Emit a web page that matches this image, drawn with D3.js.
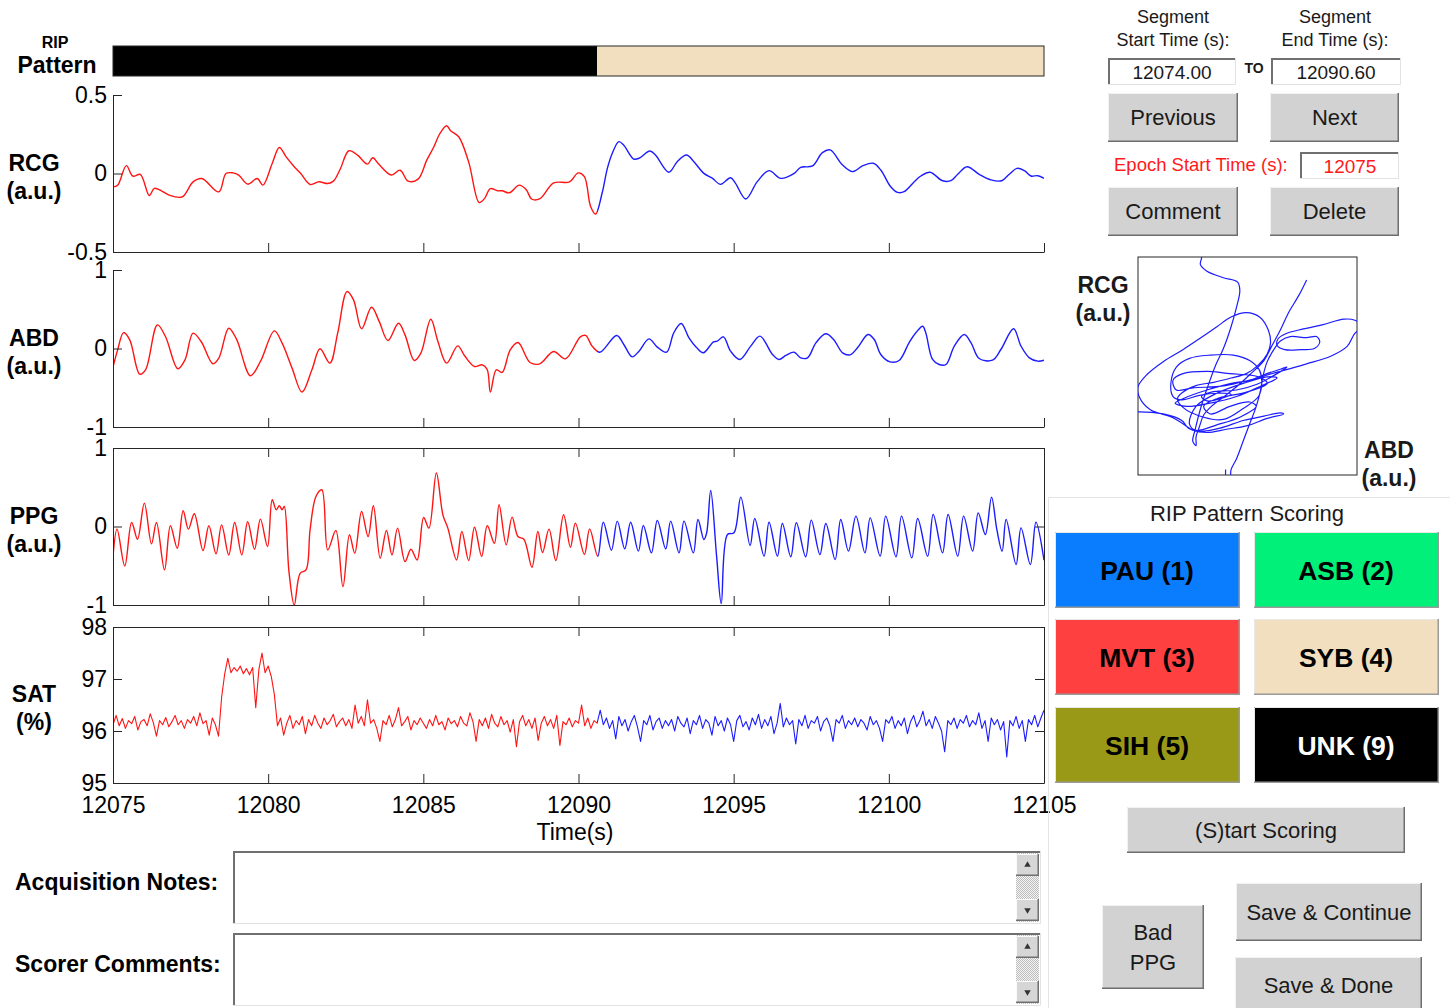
<!DOCTYPE html>
<html>
<head>
<meta charset="utf-8">
<script src="https://cdn.jsdelivr.net/npm/d3@7"></script>
<style>
  body { margin: 0; background: #fff; }
  svg { font-family: "Liberation Sans", Arial, sans-serif; }
</style>
</head>
<body>
<div id="chart"></div>
<script>
// time window and split between scored (red) and current (blue) part
const tStart = 12075;
const tEnd = 12105;
const splitTime = 12090.6;
const xTicks = [12075, 12080, 12085, 12090, 12095, 12100, 12105];

const rcgTicks = [-0.5, 0, 0.5];
const abdTicks = [-1, 0, 1];
const ppgTicks = [-1, 0, 1];
const satTicks = [95, 96, 97, 98];

// scoring categories
const scoreLabels = ["PAU (1)", "ASB (2)", "MVT (3)", "SYB (4)", "SIH (5)", "UNK (9)"];
const scoreColors = ["#0a7dff", "#00f07a", "#ff4040", "#f2dfbf", "#999917", "#000000"];
const scoreText = ["#000", "#000", "#000", "#000", "#000", "#fff"];

// RIP pattern segments: [start, end, category index]
const ripSegments = [
  [12075, 12090.6, 5],
  [12090.6, 12105, 3]
];

// RCG (a.u.) [time, value]
const rcgSeries = [
  [12075.0, -0.085], [12075.15, -0.075], [12075.43, 0.05], [12075.64, -0.017], [12075.88, -0.006],
  [12076.17, -0.14], [12076.33, -0.095], [12076.56, -0.11], [12076.81, -0.138], [12077.23, -0.149],
  [12077.58, -0.053], [12077.86, -0.032], [12078.41, -0.117], [12078.64, 0.0], [12078.86, 0.004],
  [12079.05, -0.01], [12079.34, -0.068], [12079.65, -0.032], [12079.83, -0.074], [12080.13, 0.064],
  [12080.36, 0.166], [12080.58, 0.106], [12080.84, 0.043], [12081.05, 0.0], [12081.35, -0.07],
  [12081.64, -0.053], [12081.92, -0.064], [12082.11, -0.047], [12082.33, 0.032], [12082.6, 0.145],
  [12082.88, 0.117], [12083.2, 0.06], [12083.37, 0.1], [12083.56, 0.06], [12083.97, -0.01],
  [12084.25, 0.021], [12084.51, -0.049], [12084.83, -0.036], [12085.11, 0.085], [12085.34, 0.17],
  [12085.52, 0.25], [12085.75, 0.304], [12085.88, 0.272], [12086.14, 0.234], [12086.46, 0.074],
  [12086.8, -0.185], [12086.97, -0.16], [12087.16, -0.096], [12087.39, -0.11], [12087.54, -0.11],
  [12087.77, -0.123], [12088.09, -0.074], [12088.31, -0.102], [12088.5, -0.164], [12088.76, -0.16],
  [12089.2, -0.06], [12089.71, -0.053], [12089.99, 0.004], [12090.19, -0.02], [12090.39, -0.21],
  [12090.55, -0.258], [12090.76, -0.126], [12090.93, 0.033], [12091.09, 0.129], [12091.3, 0.203],
  [12091.46, 0.18], [12091.78, 0.092], [12091.95, 0.097], [12092.3, 0.143], [12092.48, 0.118],
  [12092.91, 0.008], [12093.18, 0.075], [12093.48, 0.118], [12093.72, 0.075], [12094.04, 0.001],
  [12094.31, -0.03], [12094.58, -0.069], [12094.9, -0.027], [12095.06, -0.063], [12095.39, -0.162],
  [12095.76, -0.052], [12096.14, 0.018], [12096.52, -0.031], [12096.95, 0.001], [12097.16, 0.039],
  [12097.54, 0.048], [12097.86, 0.133], [12098.11, 0.15], [12098.51, 0.054], [12098.83, 0.012],
  [12099.15, 0.048], [12099.5, 0.065], [12099.74, 0.022], [12100.06, -0.084], [12100.28, -0.12],
  [12100.49, -0.116], [12100.82, -0.052], [12101.03, -0.016], [12101.33, 0.008], [12101.73, -0.046],
  [12102.0, -0.046], [12102.22, -0.005], [12102.52, 0.043], [12102.91, -0.005], [12103.29, -0.041],
  [12103.64, -0.046], [12103.88, -0.005], [12104.13, 0.033], [12104.37, 0.018], [12104.58, -0.016],
  [12104.8, -0.014], [12105.0, -0.031]
];

// ABD (a.u.) [time, value]
const abdSeries = [
  [12075.0, -0.237], [12075.15, -0.017], [12075.34, 0.203], [12075.54, 0.11], [12075.86, -0.326],
  [12076.05, -0.271], [12076.43, 0.301], [12076.69, 0.153], [12077.09, -0.258], [12077.32, -0.144],
  [12077.58, 0.195], [12077.84, 0.089], [12078.22, -0.195], [12078.41, -0.123], [12078.73, 0.258],
  [12078.98, 0.119], [12079.43, -0.347], [12079.75, -0.165], [12080.2, 0.225], [12080.45, 0.068],
  [12080.77, -0.25], [12081.09, -0.555], [12081.41, -0.271], [12081.67, -0.004], [12081.99, -0.186],
  [12082.24, 0.195], [12082.54, 0.725], [12082.75, 0.619], [12083.01, 0.25], [12083.33, 0.525],
  [12083.58, 0.343], [12083.86, 0.102], [12084.2, 0.322], [12084.41, 0.174], [12084.71, -0.153],
  [12084.92, -0.059], [12085.24, 0.373], [12085.47, 0.089], [12085.75, -0.186], [12086.11, 0.034],
  [12086.33, -0.093], [12086.65, -0.229], [12086.9, -0.208], [12087.06, -0.271], [12087.16, -0.555],
  [12087.35, -0.271], [12087.54, -0.305], [12087.8, -0.017], [12088.05, 0.076], [12088.44, -0.178],
  [12088.75, -0.195], [12089.2, -0.038], [12089.58, -0.131], [12090.06, 0.149], [12090.23, 0.166],
  [12090.44, 0.03], [12090.69, -0.047], [12091.23, 0.166], [12091.46, 0.051], [12091.73, -0.106],
  [12091.95, -0.034], [12092.27, 0.123], [12092.54, 0.017], [12092.84, -0.047], [12093.07, 0.2],
  [12093.31, 0.318], [12093.56, 0.136], [12093.81, 0.009], [12094.02, -0.055], [12094.35, 0.085],
  [12094.47, 0.093], [12094.67, 0.149], [12094.9, -0.034], [12095.2, -0.14], [12095.55, 0.03],
  [12095.85, 0.157], [12096.25, -0.076], [12096.46, -0.14], [12096.68, -0.089], [12096.95, -0.047],
  [12097.16, -0.119], [12097.38, -0.119], [12097.65, 0.072], [12097.97, 0.187], [12098.22, 0.115],
  [12098.51, -0.055], [12098.75, -0.081], [12098.99, 0.009], [12099.33, 0.178], [12099.53, 0.115],
  [12099.74, -0.076], [12100.04, -0.17], [12100.33, -0.153], [12100.65, 0.072], [12100.87, 0.2],
  [12101.09, 0.284], [12101.19, 0.2], [12101.41, -0.14], [12101.62, -0.204], [12101.84, -0.204],
  [12102.11, 0.03], [12102.43, 0.178], [12102.65, 0.072], [12102.91, -0.127], [12103.34, -0.149],
  [12103.61, -0.013], [12104.02, 0.251], [12104.26, 0.03], [12104.53, -0.119], [12104.8, -0.161],
  [12105.0, -0.149]
];

// PPG (a.u.) [time, value]
const ppgSeries = [
  [12075.0, -0.383], [12075.13, -0.034], [12075.38, -0.502], [12075.6, 0.051], [12075.79, -0.162],
  [12076.01, 0.298], [12076.24, -0.221], [12076.4, 0.051], [12076.66, -0.553], [12076.85, 0.009],
  [12077.07, -0.277], [12077.26, 0.2], [12077.43, -0.034], [12077.62, 0.162], [12077.9, -0.306],
  [12078.09, 0.009], [12078.32, -0.349], [12078.5, 0.021], [12078.73, -0.362], [12078.92, 0.051],
  [12079.15, -0.362], [12079.34, 0.06], [12079.56, -0.289], [12079.75, 0.094], [12079.98, -0.255],
  [12080.13, 0.34], [12080.26, 0.213], [12080.36, 0.264], [12080.45, 0.213], [12080.52, 0.255],
  [12080.67, -0.574], [12080.84, -1.0], [12081.03, -0.596], [12081.22, -0.553], [12081.35, -0.043],
  [12081.54, 0.383], [12081.73, 0.468], [12081.92, -0.298], [12082.18, -0.051], [12082.41, -0.766],
  [12082.62, -0.106], [12082.79, -0.34], [12083.01, 0.191], [12083.22, -0.128], [12083.39, 0.264],
  [12083.61, -0.404], [12083.81, -0.051], [12083.99, -0.362], [12084.17, -0.021], [12084.41, -0.447],
  [12084.6, -0.289], [12084.8, -0.426], [12085.01, 0.115], [12085.18, -0.021], [12085.42, 0.681],
  [12085.63, 0.149], [12085.79, -0.021], [12086.07, -0.426], [12086.24, -0.064], [12086.46, -0.434],
  [12086.65, -0.009], [12086.88, -0.383], [12087.06, 0.009], [12087.29, -0.213], [12087.44, 0.277],
  [12087.67, -0.234], [12087.86, 0.119], [12088.05, -0.128], [12088.24, -0.162], [12088.5, -0.519],
  [12088.69, -0.064], [12088.84, -0.332], [12089.05, -0.034], [12089.27, -0.434], [12089.52, 0.149],
  [12089.74, -0.264], [12089.9, 0.043], [12090.19, -0.357], [12090.36, -0.03], [12090.62, -0.378],
  [12090.8, 0.055], [12091.06, -0.302], [12091.25, 0.068], [12091.49, -0.285], [12091.68, 0.055],
  [12091.93, -0.314], [12092.09, 0.013], [12092.35, -0.336], [12092.54, 0.076], [12092.81, -0.285],
  [12092.97, 0.068], [12093.24, -0.336], [12093.4, 0.068], [12093.7, -0.336], [12093.85, 0.089],
  [12094.04, -0.166], [12094.13, -0.08], [12094.26, 0.459], [12094.45, -0.378], [12094.6, -0.981],
  [12094.8, -0.102], [12095.01, -0.08], [12095.23, 0.374], [12095.53, -0.242], [12095.68, 0.102],
  [12095.98, -0.378], [12096.14, 0.055], [12096.41, -0.378], [12096.57, 0.038], [12096.84, -0.386],
  [12097.02, 0.047], [12097.32, -0.386], [12097.5, 0.081], [12097.78, -0.357], [12097.97, 0.038],
  [12098.27, -0.42], [12098.45, 0.089], [12098.7, -0.314], [12098.94, 0.132], [12099.23, -0.336],
  [12099.4, 0.11], [12099.72, -0.378], [12099.9, 0.132], [12100.23, -0.386], [12100.41, 0.132],
  [12100.74, -0.399], [12100.93, 0.102], [12101.25, -0.378], [12101.43, 0.153], [12101.73, -0.336],
  [12101.91, 0.153], [12102.22, -0.378], [12102.41, 0.132], [12102.7, -0.314], [12102.88, 0.174],
  [12103.11, -0.102], [12103.31, 0.374], [12103.48, -0.038], [12103.65, -0.314], [12103.78, 0.089],
  [12104.1, -0.484], [12104.26, -0.017], [12104.56, -0.484], [12104.74, 0.055], [12105.0, -0.43]
];

// SAT (%) sampled every 0.1 s from tStart
const satStep = 0.1;
const satValues = [
  96.12, 96.30, 96.10, 96.24, 96.05, 96.20, 96.14, 96.28, 96.02, 96.18,
  96.22, 96.10, 96.33, 96.16, 95.90, 96.20, 96.12, 96.26, 96.08, 96.18,
  96.30, 96.12, 96.20, 96.05, 96.22, 96.15, 96.28, 96.10, 96.35, 96.14,
  96.20, 95.92, 96.25, 96.12, 95.90, 96.65, 97.10, 97.40, 97.12, 97.22,
  97.15, 97.25, 97.10, 97.20, 97.08, 97.22, 96.45, 97.18, 97.50, 97.12,
  97.25, 97.05, 96.70, 96.10, 96.25, 95.92, 96.15, 96.30, 96.05, 96.20,
  96.12, 96.28, 95.95, 96.22, 96.10, 96.30, 96.15, 96.05, 96.25, 96.12,
  96.20, 96.32, 96.08, 96.18, 96.25, 96.10, 96.22, 96.05, 96.50, 96.15,
  96.28, 96.10, 96.60, 96.15, 96.22, 96.05, 95.80, 96.20, 96.12, 96.30,
  96.08, 96.22, 96.45, 96.10, 96.18, 96.28, 96.02, 96.20, 96.12, 96.25,
  96.15, 96.05, 96.22, 96.10, 96.30, 96.12, 96.18, 96.02, 96.25, 96.14,
  96.20, 96.08, 96.28, 96.15, 96.10, 96.35, 96.18, 95.80, 96.22, 96.10,
  96.25, 96.05, 96.32, 96.15, 96.08, 96.28, 96.12, 96.20, 95.98, 96.22,
  95.70, 96.18, 96.30, 96.10, 96.22, 96.05, 96.25, 95.82, 96.15, 96.28,
  96.10, 96.22, 96.05, 96.30, 95.72, 96.18, 96.12, 96.25, 96.08, 96.20,
  96.15, 96.50, 96.10, 96.25, 96.05, 96.20, 96.15, 96.40, 96.12, 96.25,
  96.05, 96.20, 95.85, 96.28, 96.10, 96.22, 96.00, 96.18, 96.30, 96.08,
  95.80, 96.20, 96.12, 96.30, 96.02, 96.18, 96.25, 96.05, 96.20, 96.10,
  96.22, 96.00, 96.28, 96.15, 96.08, 96.25, 95.95, 96.20, 96.12, 96.30,
  96.05, 96.22, 96.15, 95.92, 96.28, 96.10, 96.20, 96.00, 96.25, 96.12,
  95.80, 96.20, 96.30, 96.08, 96.18, 96.02, 96.25, 96.12, 96.32, 96.05,
  96.22, 96.10, 96.28, 95.95, 96.15, 96.53, 96.08, 96.25, 96.12, 96.20,
  95.75, 96.22, 96.10, 96.30, 96.05, 96.20, 96.15, 96.28, 96.00, 96.18,
  96.25, 96.10, 95.80, 96.22, 96.15, 96.30, 96.05, 96.20, 96.12, 96.25,
  96.08, 96.22, 96.15, 96.02, 96.28, 96.12, 96.20, 96.05, 95.80, 96.22,
  96.15, 96.28, 96.05, 96.20, 96.10, 96.25, 95.95, 96.18, 96.30, 96.08,
  96.20, 96.38, 96.10, 96.22, 96.05, 96.28, 96.15, 96.00, 95.60, 96.20,
  96.12, 96.25, 96.05, 96.22, 96.15, 96.30, 96.08, 96.20, 96.12, 96.35,
  96.05, 96.20, 95.80, 96.25, 96.12, 96.22, 96.02, 96.18, 95.50, 96.20,
  96.10, 96.28, 96.05, 96.20, 95.80, 96.22, 96.12, 96.30, 96.08, 96.25,
  96.40
];

// RCG vs ABD loop of the current segment: [abd, rcg] (a.u.)
const loopPoints = [
  [0.54, 0.79], [0.47, 0.65], [0.37, 0.48], [0.30, 0.33], [0.22, 0.18], [0.15, 0.05], [0.02, -0.08],
  [-0.10, -0.19], [-0.24, -0.30], [-0.33, -0.37], [-0.40, -0.45], [-0.44, -0.56], [-0.47, -0.65],
  [-0.47, -0.73], [-0.50, -0.69], [-0.48, -0.59], [-0.42, -0.36], [-0.36, -0.18], [-0.29, 0.01],
  [-0.22, 0.16], [-0.15, 0.36], [-0.10, 0.54], [-0.07, 0.69], [-0.09, 0.77], [-0.22, 0.81],
  [-0.37, 0.87], [-0.43, 0.93], [-0.42, 0.99], [-0.41, 1.12], [-1.20, 1.12], [-1.20, -0.44],
  [-1.00, -0.42], [-0.77, -0.44], [-0.60, -0.50], [-0.54, -0.57], [-0.44, -0.60], [-0.25, -0.57],
  [-0.04, -0.50], [0.15, -0.46], [0.30, -0.43], [0.33, -0.44], [0.18, -0.48], [-0.01, -0.55],
  [-0.19, -0.58], [-0.37, -0.61], [-0.50, -0.59], [-0.59, -0.53], [-0.69, -0.47], [-0.89, -0.40],
  [-0.99, -0.28], [-1.00, -0.19], [-0.92, -0.08], [-0.77, 0.04], [-0.59, 0.15], [-0.44, 0.25],
  [-0.28, 0.36], [-0.15, 0.45], [-0.01, 0.49], [0.11, 0.45], [0.19, 0.33], [0.21, 0.21], [0.18, 0.11],
  [0.10, 0.01], [-0.01, -0.07], [-0.15, -0.11], [-0.31, -0.15], [-0.47, -0.18], [-0.59, -0.24],
  [-0.64, -0.30], [-0.59, -0.38], [-0.40, -0.47], [-0.22, -0.49], [-0.04, -0.39], [0.10, -0.28],
  [0.13, -0.16], [0.11, -0.04], [0.02, 0.05], [-0.13, 0.10], [-0.34, 0.10], [-0.53, 0.07],
  [-0.65, -0.01], [-0.70, -0.16], [-0.68, -0.28], [-0.60, -0.31], [-0.44, -0.27], [-0.28, -0.25],
  [-0.15, -0.26], [-0.22, -0.29], [-0.37, -0.32], [-0.42, -0.28], [-0.33, -0.24], [-0.10, -0.22],
  [0.08, -0.17], [0.27, -0.07], [0.36, -0.01], [0.30, -0.03], [0.15, -0.08], [-0.01, -0.14],
  [-0.10, -0.15], [-0.37, -0.22], [-0.59, -0.30], [-0.66, -0.34], [-0.56, -0.37], [-0.34, -0.34],
  [-0.10, -0.28], [0.11, -0.19], [0.27, -0.11], [0.18, -0.10], [-0.04, -0.16], [-0.28, -0.25],
  [-0.47, -0.37], [-0.53, -0.53], [-0.47, -0.59], [-0.28, -0.54], [-0.07, -0.47], [0.08, -0.37],
  [0.02, -0.33], [-0.16, -0.37], [-0.34, -0.44], [-0.40, -0.37], [-0.28, -0.30], [-0.01, -0.24],
  [0.18, -0.16], [0.10, -0.10], [-0.16, -0.07], [-0.37, -0.05], [-0.59, -0.07], [-0.68, -0.13],
  [-0.65, -0.22], [-0.50, -0.20], [-0.20, -0.18],
  [0.33, -0.04], [0.54, 0.02], [0.76, 0.09], [0.91, 0.18], [0.98, 0.30], [1.05, 0.36],
  [0.98, 0.42], [0.88, 0.43], [0.69, 0.38], [0.51, 0.34], [0.36, 0.30], [0.28, 0.25], [0.27, 0.19],
  [0.34, 0.15], [0.49, 0.15], [0.61, 0.16], [0.66, 0.22], [0.63, 0.27], [0.54, 0.26], [0.39, 0.27],
  [0.30, 0.23], [0.24, 0.15], [0.18, 0.04], [0.14, -0.10], [0.12, -0.22], [0.08, -0.37], [0.02, -0.53],
  [-0.04, -0.69], [-0.10, -0.85], [-0.15, -0.95], [-0.16, -1.05], [-0.19, -1.05], [-0.20, -0.95]
];

const satSeries = satValues.map((v, i) => [tStart + i * satStep, v]);

const width = 1450;
const height = 1008;
const plotLeft = 113;
const plotRight = 1044;
const red = "#ff1414";
const blue = "#1c1cff";
const axisColor = "#262626";

const svg = d3.select("#chart")
  .append("svg")
  .attr("width", width)
  .attr("height", height)
  .attr("viewBox", [0, 0, width, height]);

const defs = svg.append("defs");
const chk = defs.append("pattern")
  .attr("id", "chk").attr("width", 2).attr("height", 2)
  .attr("patternUnits", "userSpaceOnUse");
chk.append("rect").attr("width", 2).attr("height", 2).attr("fill", "#f4f4f4");
chk.append("rect").attr("width", 1).attr("height", 1).attr("fill", "#bdbdbd");
chk.append("rect").attr("x", 1).attr("y", 1).attr("width", 1).attr("height", 1).attr("fill", "#bdbdbd");

const x = d3.scaleLinear().domain([tStart, tEnd]).range([plotLeft, plotRight]);

// RIP pattern bar
svg.append("g")
  .selectAll("rect")
  .data(ripSegments)
  .join("rect")
  .attr("x", d => x(d[0]))
  .attr("y", 46)
  .attr("width", d => x(d[1]) - x(d[0]))
  .attr("height", 30)
  .attr("fill", d => scoreColors[d[2]]);
svg.append("rect")
  .attr("x", x(tStart)).attr("y", 46)
  .attr("width", x(tEnd) - x(tStart)).attr("height", 30)
  .attr("fill", "none").attr("stroke", axisColor);
svg.append("text").attr("x", 55).attr("y", 48).attr("text-anchor", "middle")
  .attr("font-size", 16).attr("font-weight", "bold").text("RIP");
svg.append("text").attr("x", 57).attr("y", 73).attr("text-anchor", "middle")
  .attr("font-size", 23).attr("font-weight", "bold").text("Pattern");

const panels = [
  { lines: ["RCG", "(a.u.)"], series: rcgSeries, domain: [-0.5, 0.5], ticks: rcgTicks, top: 95, bottom: 252, box: false, smooth: true },
  { lines: ["ABD", "(a.u.)"], series: abdSeries, domain: [-1, 1], ticks: abdTicks, top: 270, bottom: 427, box: false, smooth: true },
  { lines: ["PPG", "(a.u.)"], series: ppgSeries, domain: [-1, 1], ticks: ppgTicks, top: 448, bottom: 605, box: true, smooth: true },
  { lines: ["SAT", "(%)"], series: satSeries, domain: [95, 98], ticks: satTicks, top: 627, bottom: 783, box: true, smooth: false }
];

function styleAxis(g) {
  g.attr("font-family", null).attr("font-size", 23);
  g.select(".domain").attr("stroke", axisColor);
  g.selectAll(".tick line").attr("stroke", axisColor);
  g.selectAll(".tick text").attr("fill", "#000");
}

panels.forEach((p, i) => {
  const y = d3.scaleLinear().domain(p.domain).range([p.bottom, p.top]);
  const g = svg.append("g");
  const line = d3.line()
    .x(d => x(d[0]))
    .y(d => y(d[1]))
    .curve(p.smooth ? d3.curveCatmullRom.alpha(0.5) : d3.curveLinear);

  [[tStart, splitTime, red, "r"], [splitTime, tEnd, blue, "b"]].forEach(([a, b, col, k]) => {
    const id = `clip${i}${k}`;
    defs.append("clipPath").attr("id", id).append("rect")
      .attr("x", x(a)).attr("y", p.top - 2)
      .attr("width", x(b) - x(a)).attr("height", p.bottom - p.top + 4);
    g.append("path")
      .attr("d", line(p.series))
      .attr("fill", "none")
      .attr("stroke", col)
      .attr("stroke-width", p.smooth ? 1.4 : 1.1)
      .attr("stroke-linejoin", "round")
      .attr("clip-path", `url(#${id})`);
  });

  g.append("g")
    .attr("transform", `translate(${plotLeft},0)`)
    .call(d3.axisLeft(y).tickValues(p.ticks).tickSizeInner(-9).tickSizeOuter(0)
      .tickPadding(6).tickFormat(d => String(d)))
    .call(styleAxis);

  const last = i === panels.length - 1;
  g.append("g")
    .attr("transform", `translate(0,${p.bottom})`)
    .call(d3.axisBottom(x).tickValues(xTicks).tickSizeInner(-9).tickSizeOuter(0)
      .tickPadding(14).tickFormat(last ? d => String(d) : ""))
    .call(styleAxis);

  if (p.box) {
    g.append("g")
      .attr("transform", `translate(0,${p.top})`)
      .call(d3.axisTop(x).tickValues(xTicks).tickSizeInner(-9).tickSizeOuter(0).tickFormat(""))
      .call(styleAxis);
    g.append("g")
      .attr("transform", `translate(${plotRight},0)`)
      .call(d3.axisRight(y).tickValues(p.ticks).tickSizeInner(-9).tickSizeOuter(0).tickFormat(""))
      .call(styleAxis);
  }

  const mid = (p.top + p.bottom) / 2;
  g.selectAll(".ylab")
    .data(p.lines)
    .join("text")
    .attr("class", "ylab")
    .attr("x", 34)
    .attr("y", (d, j) => mid - 3 + j * 28)
    .attr("text-anchor", "middle")
    .attr("font-size", 23)
    .attr("font-weight", "bold")
    .text(d => d);
});

svg.append("text").attr("x", 575).attr("y", 840).attr("text-anchor", "middle")
  .attr("font-size", 23).text("Time(s)");

// ---- widgets ----
function raised(x0, y0, w, h, fill, hi, lo) {
  const g = svg.append("g");
  g.append("rect").attr("x", x0).attr("y", y0).attr("width", w).attr("height", h).attr("fill", fill);
  g.append("path").attr("d", `M${x0 + 0.5},${y0 + h}V${y0 + 0.5}H${x0 + w}`)
    .attr("fill", "none").attr("stroke", hi || "#f2f2f2");
  g.append("path").attr("d", `M${x0},${y0 + h - 0.75}H${x0 + w - 0.75}V${y0}`)
    .attr("fill", "none").attr("stroke", lo || "#6e6e6e").attr("stroke-width", 1.5);
  return g;
}

function sunken(x0, y0, w, h) {
  const g = svg.append("g");
  g.append("rect").attr("x", x0).attr("y", y0).attr("width", w).attr("height", h).attr("fill", "#fff");
  g.append("path").attr("d", `M${x0 + 1},${y0 + h}V${y0 + 1}H${x0 + w}`)
    .attr("fill", "none").attr("stroke", "#707070").attr("stroke-width", 2);
  g.append("path").attr("d", `M${x0},${y0 + h - 0.5}H${x0 + w - 0.5}V${y0}`)
    .attr("fill", "none").attr("stroke", "#e2e2e2");
  return g;
}

function label(txt, x0, y0, size, opts = {}) {
  return svg.append("text")
    .attr("x", x0).attr("y", y0)
    .attr("text-anchor", opts.anchor || "middle")
    .attr("dominant-baseline", "central")
    .attr("font-size", size)
    .attr("font-weight", opts.bold ? "bold" : null)
    .attr("fill", opts.color || "#1a1a1a")
    .text(txt);
}

function button(txt, x0, y0, w, h, size) {
  raised(x0, y0, w, h, "#d2d2d2");
  const lines = [].concat(txt);
  lines.forEach((t, j) => label(t, x0 + w / 2, y0 + h / 2 + (j - (lines.length - 1) / 2) * 30, size || 22));
}

label("Segment", 1173, 17, 18);
label("Start Time (s):", 1173, 40, 18);
label("Segment", 1335, 17, 18);
label("End Time (s):", 1335, 40, 18);

sunken(1108, 58, 128, 27);
label("12074.00", 1172, 72, 19);
label("TO", 1254, 68, 14, { bold: true });
sunken(1271, 58, 130, 27);
label("12090.60", 1336, 72, 19);

button("Previous", 1108, 93, 130, 49);
button("Next", 1270, 93, 129, 49);

label("Epoch Start Time (s):", 1114, 164, 18.5, { anchor: "start", color: "#ff1a1a" });
sunken(1300, 152, 99, 27);
label("12075", 1350, 166, 19, { color: "#ff1a1a" });

button("Comment", 1108, 187, 130, 49);
button("Delete", 1270, 187, 129, 49);

// RCG vs ABD loop
const lx = d3.scaleLinear().domain([-1, 1]).range([1138, 1357]);
const ly = d3.scaleLinear().domain([-1, 1]).range([475, 257]);
defs.append("clipPath").attr("id", "loopclip").append("rect")
  .attr("x", 1138).attr("y", 257).attr("width", 219).attr("height", 218);
svg.append("rect").attr("x", 1138).attr("y", 257).attr("width", 219).attr("height", 218)
  .attr("fill", "#fff").attr("stroke", axisColor);
svg.append("path")
  .attr("d", d3.line().x(d => lx(d[0])).y(d => ly(d[1])).curve(d3.curveCatmullRom.alpha(0.5))(loopPoints))
  .attr("fill", "none").attr("stroke", blue).attr("stroke-width", 1.2)
  .attr("clip-path", "url(#loopclip)");
label("RCG", 1103, 285, 23, { bold: true });
label("(a.u.)", 1103, 313, 23, { bold: true });
label("ABD", 1389, 450, 23, { bold: true });
label("(a.u.)", 1389, 478, 23, { bold: true });

// scoring panel
svg.append("path").attr("d", "M1450,497.5H1048.5V1008")
  .attr("fill", "none").attr("stroke", "#e4e4e4");
label("RIP Pattern Scoring", 1247, 513, 22);

const scoreX = [1055, 1254];
const scoreY = [532, 619, 707];
scoreLabels.forEach((s, k) => {
  const bx = scoreX[k % 2];
  const by = scoreY[Math.floor(k / 2)];
  raised(bx, by, 185, 76, scoreColors[k], "#e8e8e8", "#9a9a9a");
  label(s, bx + 92, by + 39, 26.5, { bold: true, color: scoreText[k] });
});

button("(S)tart Scoring", 1127, 807, 278, 46);
button(["Bad", "PPG"], 1102, 905, 102, 84);
button("Save & Continue", 1236, 883, 186, 58);
button("Save & Done", 1235, 957, 187, 56);

// notes boxes
function noteBox(txt, y0) {
  label(txt, 15, y0 + 31, 23, { anchor: "start", bold: true, color: "#000" });
  sunken(233, y0, 808, 73);
  svg.append("rect").attr("x", 1016).attr("y", y0 + 2).attr("width", 23).attr("height", 69).attr("fill", "url(#chk)");
  raised(1016, y0 + 3, 23, 22, "#d6d6d6", "#fafafa", "#707070");
  raised(1016, y0 + 48, 23, 22, "#d6d6d6", "#fafafa", "#707070");
  svg.append("path").attr("d", d3.symbol(d3.symbolTriangle, 18)())
    .attr("transform", `translate(1027.5,${y0 + 14})`).attr("fill", "#333");
  svg.append("path").attr("d", d3.symbol(d3.symbolTriangle, 18)())
    .attr("transform", `translate(1027.5,${y0 + 59}) rotate(180)`).attr("fill", "#333");
}
noteBox("Acquisition Notes:", 851);
noteBox("Scorer Comments:", 933);
</script>
</body>
</html>
